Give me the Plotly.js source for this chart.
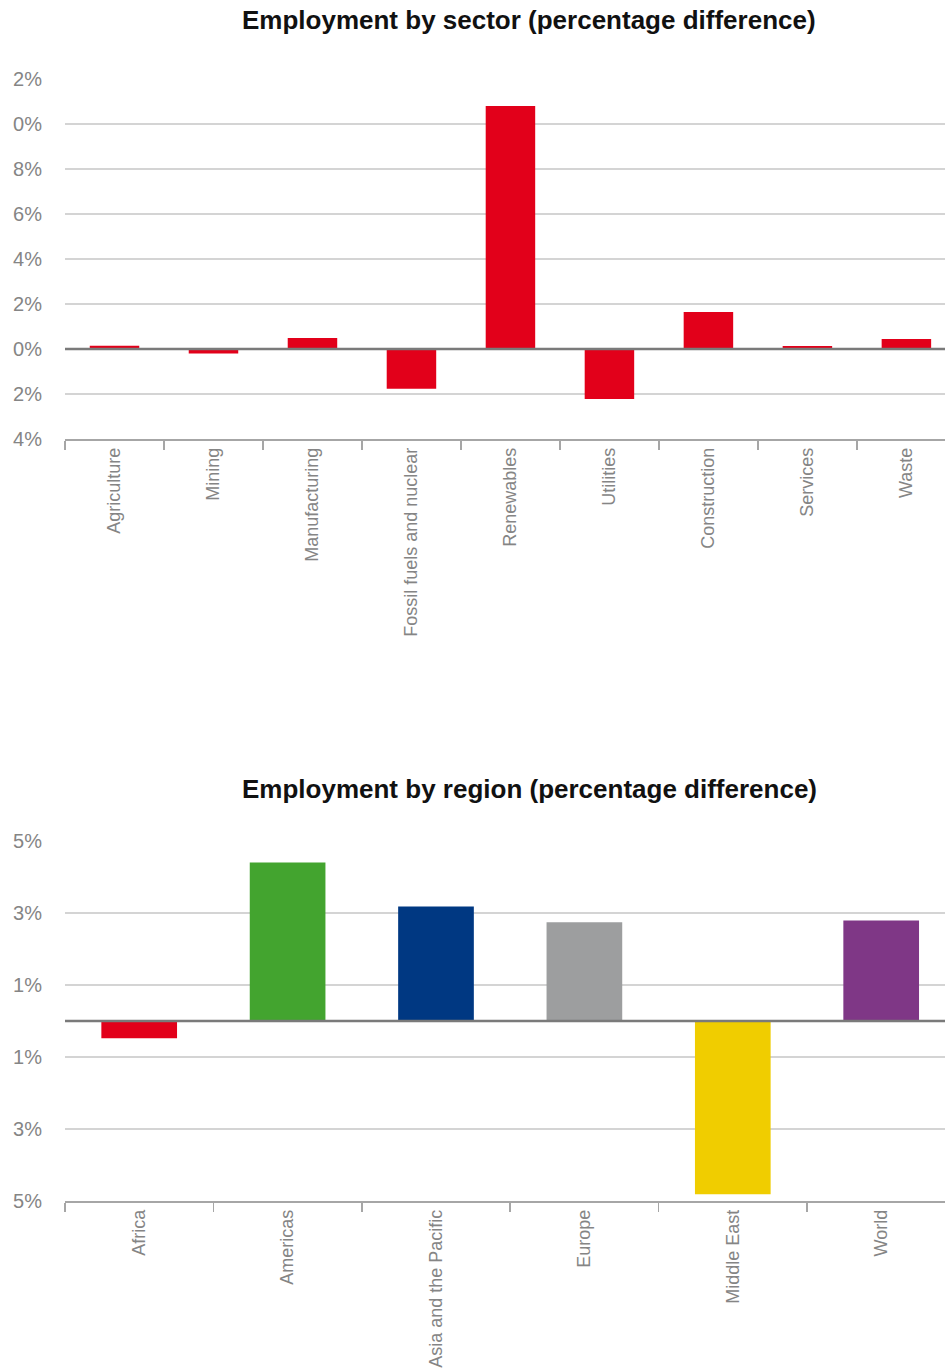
<!DOCTYPE html>
<html>
<head>
<meta charset="utf-8">
<script src="https://cdn.plot.ly/plotly-3.0.1.min.js"></script>
<style>
  html, body { margin: 0; padding: 0; background: #ffffff; }
  #chart { width: 945px; height: 1372px; }
</style>
</head>
<body>
<div id="chart"></div>
<script>
// ---- Data ----
const sectorCategories = ["Agriculture", "Mining", "Manufacturing", "Fossil fuels and nuclear", "Renewables", "Utilities", "Construction", "Services", "Waste"];
const sectorValues = [0.14, -0.2, 0.49, -1.77, 10.8, -2.22, 1.64, 0.13, 0.44];
const sectorTickVals = [12, 10, 8, 6, 4, 2, 0, -2, -4];
const sectorTickText = ["2%", "0%", "8%", "6%", "4%", "2%", "0%", "2%", "4%"];

const regionCategories = ["Africa", "Americas", "Asia and the Pacific", "Europe", "Middle East", "World"];
const regionValues = [-0.48, 4.4, 3.18, 2.74, -4.81, 2.79];
const regionColors = ["#E2001A", "#43A42F", "#003882", "#9D9E9F", "#F0CD00", "#7F3786"];
const regionTickVals = [5, 3, 1, -1, -3, -5];
const regionTickText = ["5%", "3%", "1%", "1%", "3%", "5%"];

const sectorTitle = "Employment by sector (percentage difference)";
const regionTitle = "Employment by region (percentage difference)";

// ---- Layout helpers ----
const W = 945, H = 1372;
const py = v => (H - v) / H;
const px = v => v / W;

const labelFont = { family: "Liberation Sans, Arial, sans-serif", size: 20, color: "#858585" };
const catFont = { family: "Liberation Sans, Arial, sans-serif", size: 18, color: "#858585" };
const titleFont = { family: "Liberation Sans, Arial, sans-serif", size: 26, color: "#111111", weight: 700 };

const traces = [
  {
    type: "bar", x: sectorCategories, y: sectorValues, xaxis: "x", yaxis: "y",
    marker: { color: "#E2001A" }, width: 0.5, hoverinfo: "x+y"
  },
  {
    type: "bar", x: regionCategories, y: regionValues, xaxis: "x2", yaxis: "y2",
    marker: { color: regionColors }, width: 0.51, hoverinfo: "x+y"
  }
];

const xCommon = {
  type: "category",
  showline: true, linecolor: "#a6a6a6", linewidth: 1.5,
  ticks: "outside", tickson: "boundaries", ticklen: 9, tickcolor: "#a6a6a6", tickwidth: 1.5,
  tickangle: -90, tickfont: catFont, showgrid: false, zeroline: false,
  domain: [px(65), 1], fixedrange: true
};
const yCommon = {
  showgrid: true, gridcolor: "#d4d4d4", gridwidth: 1.5,
  zeroline: false, showline: false, ticks: "", tickfont: labelFont,
  ticklabelstandoff: 22, fixedrange: true
};

const layout = {
  width: W, height: H,
  margin: { l: 0, r: 0, t: 0, b: 0, pad: 0 },
  paper_bgcolor: "#ffffff", plot_bgcolor: "#ffffff",
  showlegend: false,
  xaxis: Object.assign({}, xCommon, { anchor: "y", range: [-0.5, 8.39] }),
  yaxis: Object.assign({}, yCommon, {
    anchor: "x", domain: [py(439), py(79)], range: [-4, 12],
    tickvals: sectorTickVals, ticktext: sectorTickText
  }),
  xaxis2: Object.assign({}, xCommon, { anchor: "y2", range: [-0.5, 5.43] }),
  yaxis2: Object.assign({}, yCommon, {
    anchor: "x2", domain: [py(1201), py(841)], range: [-5, 5],
    tickvals: regionTickVals, ticktext: regionTickText
  }),
  shapes: [
    { type: "line", xref: "x domain", yref: "y", x0: 0, x1: 1, y0: 0, y1: 0, layer: "above",
      line: { color: "#7a7a7a", width: 2.5 } },
    { type: "line", xref: "x2 domain", yref: "y2", x0: 0, x1: 1, y0: 0, y1: 0, layer: "above",
      line: { color: "#7a7a7a", width: 2.5 } }
  ],
  annotations: [
    { text: "<b>" + sectorTitle + "</b>", xref: "paper", yref: "paper", x: px(529), y: py(20),
      xanchor: "center", yanchor: "middle", showarrow: false, font: titleFont },
    { text: "<b>" + regionTitle + "</b>", xref: "paper", yref: "paper", x: px(529), y: py(789),
      xanchor: "center", yanchor: "middle", showarrow: false, font: titleFont }
  ]
};

Plotly.newPlot("chart", traces, layout, { displayModeBar: false, staticPlot: true });
</script>
</body>
</html>
